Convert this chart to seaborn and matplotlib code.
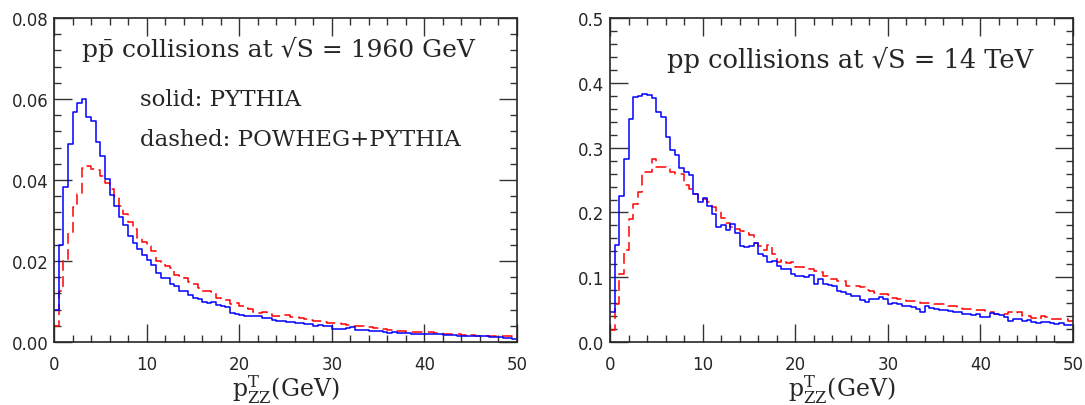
import numpy as np
import pandas as pd
import matplotlib
matplotlib.use("Agg")
import matplotlib.pyplot as plt
import seaborn as sns
from matplotlib.ticker import MultipleLocator

# pT(ZZ) spectra, 100 bins of 0.5 GeV from 0 to 50
bin_lo = np.arange(0, 50, 0.5)

tev_pythia = [
    0.008, 0.024, 0.0383, 0.049, 0.0567, 0.059, 0.060, 0.0555, 0.0546, 0.0494,
    0.046, 0.0403, 0.0364, 0.0336, 0.031, 0.029, 0.0263, 0.0245, 0.0229, 0.0215,
    0.0203, 0.019, 0.0171, 0.0158, 0.0158, 0.0144, 0.0138, 0.0125, 0.0125, 0.0117,
    0.011, 0.0106, 0.010, 0.0097, 0.0100, 0.0092, 0.009, 0.0087, 0.0073, 0.0069,
    0.0068, 0.0065, 0.0064, 0.0064, 0.0064, 0.0059, 0.0059, 0.0054, 0.0053, 0.0053,
    0.0050, 0.0050, 0.0047, 0.0046, 0.0045, 0.0044, 0.0040, 0.0041, 0.0040, 0.0039,
    0.0033, 0.0032, 0.0032, 0.0034, 0.0036, 0.0031, 0.0030, 0.0030, 0.0028, 0.0028,
    0.0027, 0.0026, 0.0022, 0.0024, 0.0023, 0.0023, 0.0022, 0.0021, 0.0021, 0.0021,
    0.0020, 0.0020, 0.0019, 0.0021, 0.0018, 0.0017, 0.0018, 0.0016, 0.0016, 0.0015,
    0.0016, 0.0015, 0.0014, 0.0014, 0.0013, 0.0013, 0.0012, 0.0011, 0.0010, 0.0008,
]
tev_powheg = [
    0.0039, 0.0127, 0.020, 0.027, 0.0333, 0.0366, 0.043, 0.0434, 0.0428, 0.0426,
    0.041, 0.0394, 0.0377, 0.036, 0.0337, 0.0317, 0.0296, 0.028, 0.0257, 0.0248,
    0.0237, 0.0226, 0.020, 0.0196, 0.0189, 0.0183, 0.0166, 0.0163, 0.0158, 0.0149,
    0.0144, 0.0133, 0.0127, 0.0125, 0.0123, 0.0108, 0.0106, 0.0105, 0.0094, 0.0097,
    0.0088, 0.0083, 0.0082, 0.0075, 0.0073, 0.0075, 0.0069, 0.0064, 0.0065, 0.0066,
    0.0066, 0.0062, 0.0061, 0.0060, 0.0058, 0.0055, 0.0053, 0.0052, 0.0050, 0.0048,
    0.0047, 0.0046, 0.0045, 0.0043, 0.0040, 0.0040, 0.0039, 0.0037, 0.0036, 0.0035,
    0.0034, 0.0033, 0.0030, 0.0028, 0.0028, 0.0027, 0.0026, 0.0026, 0.0025, 0.0026,
    0.0024, 0.0024, 0.0023, 0.0022, 0.0021, 0.0020, 0.0020, 0.0019, 0.0018, 0.0016,
    0.0017, 0.0016, 0.0016, 0.0015, 0.0015, 0.0015, 0.0014, 0.0015, 0.0014, 0.0013,
]
lhc_pythia = [
    0.047, 0.150, 0.226, 0.283, 0.345, 0.378, 0.379, 0.383, 0.382, 0.376,
    0.355, 0.347, 0.317, 0.296, 0.288, 0.268, 0.262, 0.258, 0.228, 0.2155,
    0.222, 0.210, 0.198, 0.178, 0.180, 0.173, 0.182, 0.169, 0.149, 0.147,
    0.149, 0.153, 0.136, 0.133, 0.124, 0.1255, 0.118, 0.113, 0.113, 0.105,
    0.102, 0.102, 0.100, 0.103, 0.0895, 0.097, 0.0895, 0.088, 0.087, 0.079,
    0.0766, 0.074, 0.0715, 0.071, 0.065, 0.062, 0.066, 0.067, 0.069, 0.067,
    0.0586, 0.061, 0.059, 0.056, 0.055, 0.0535, 0.051, 0.0458, 0.055, 0.053,
    0.051, 0.050, 0.050, 0.048, 0.047, 0.047, 0.043, 0.044, 0.0417, 0.043,
    0.039, 0.038, 0.0448, 0.044, 0.0417, 0.038, 0.033, 0.0355, 0.0355, 0.033,
    0.0345, 0.031, 0.029, 0.031, 0.031, 0.029, 0.028, 0.029, 0.027, 0.027,
]
lhc_powheg = [
    0.019, 0.059, 0.105, 0.142, 0.190, 0.213, 0.231, 0.262, 0.263, 0.282,
    0.270, 0.270, 0.268, 0.262, 0.260, 0.260, 0.242, 0.236, 0.228, 0.220,
    0.221, 0.2155, 0.208, 0.2025, 0.191, 0.184, 0.177, 0.174, 0.172, 0.168,
    0.166, 0.153, 0.148, 0.142, 0.150, 0.136, 0.124, 0.126, 0.122, 0.124,
    0.116, 0.116, 0.114, 0.113, 0.110, 0.108, 0.102, 0.098, 0.097, 0.095,
    0.094, 0.087, 0.086, 0.086, 0.085, 0.080, 0.079, 0.075, 0.074, 0.074,
    0.073, 0.068, 0.067, 0.066, 0.064, 0.064, 0.062, 0.061, 0.061, 0.060,
    0.059, 0.058, 0.058, 0.056, 0.056, 0.052, 0.051, 0.051, 0.050, 0.050,
    0.049, 0.046, 0.047, 0.043, 0.043, 0.043, 0.046, 0.045, 0.046, 0.041,
    0.040, 0.037, 0.036, 0.040, 0.039, 0.036, 0.036, 0.035, 0.036, 0.032,
]

sns.set_style("ticks")
plt.rcParams["font.family"] = ["DejaVu Sans"]
plt.rcParams["mathtext.fontset"] = "dejavuserif"
serif = ["DejaVu Serif"]

fig = plt.figure(figsize=(10.85, 4.06), dpi=100)
ax1 = fig.add_axes([0.0498, 0.155, 0.4267, 0.798])
ax2 = fig.add_axes([0.5622, 0.155, 0.4267, 0.798])


def draw_panel(ax, solid, dashed, ymax, ymajor, yminor, fmt):
    df = pd.DataFrame({"pt": bin_lo + 0.25, "solid": solid, "dashed": dashed})
    sns.histplot(data=df, x="pt", weights="dashed", binwidth=0.5, binrange=(0, 50),
                 element="step", fill=False, color="red", linestyle=(0, (7, 3.5)),
                 linewidth=1.1, ax=ax)
    sns.histplot(data=df, x="pt", weights="solid", binwidth=0.5, binrange=(0, 50),
                 element="step", fill=False, color="blue", linewidth=1.1, ax=ax)
    ax.set_xlim(0, 50)
    ax.set_ylim(0, ymax)
    ax.xaxis.set_major_locator(MultipleLocator(10))
    ax.xaxis.set_minor_locator(MultipleLocator(2))
    ax.yaxis.set_major_locator(MultipleLocator(ymajor))
    ax.yaxis.set_minor_locator(MultipleLocator(yminor))
    ax.yaxis.set_major_formatter(plt.FormatStrFormatter(fmt))
    ax.tick_params(which="both", direction="in", top=True, right=True, width=1.0, color="#333333")
    ax.tick_params(which="major", length=13, labelsize=12)
    ax.tick_params(axis="x", which="major", pad=9)
    ax.tick_params(axis="y", which="major", pad=4)
    ax.tick_params(which="minor", length=5)
    for s in ax.spines.values():
        s.set_linewidth(1.2)
        s.set_visible(True)
    ax.set_ylabel("")
    ax.set_xlabel(r"$\mathrm{p}^{\mathrm{T}}_{\mathrm{ZZ}}\mathrm{(GeV)}$", fontsize=17, labelpad=0)


draw_panel(ax1, tev_pythia, tev_powheg, 0.08, 0.02, 0.004, "%.2f")
draw_panel(ax2, lhc_pythia, lhc_powheg, 0.5, 0.1, 0.02, "%.1f")

ax1.text(0.06, 0.905, "p\u0070\u0304 collisions at \u221aS = 1960 GeV", transform=ax1.transAxes,
         fontsize=18, family=serif, va="center", ha="left")
ax1.text(0.186, 0.75, "solid: PYTHIA", transform=ax1.transAxes,
         fontsize=16.5, family=serif, va="center", ha="left")
ax1.text(0.186, 0.627, "dashed: POWHEG+PYTHIA", transform=ax1.transAxes,
         fontsize=16.5, family=serif, va="center", ha="left")
ax2.text(0.123, 0.873, "pp collisions at \u221aS = 14 TeV", transform=ax2.transAxes,
         fontsize=18.5, family=serif, va="center", ha="left")

fig.savefig("out.png", dpi=100)
